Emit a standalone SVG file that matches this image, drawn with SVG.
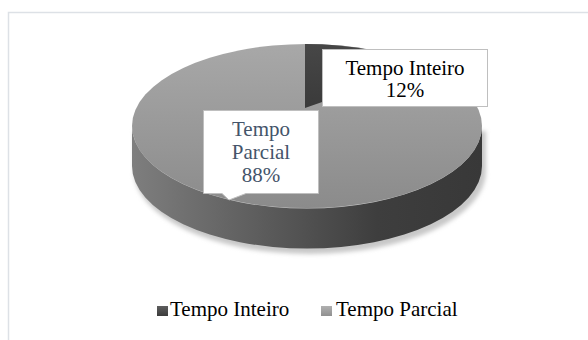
<svg xmlns="http://www.w3.org/2000/svg" width="588" height="340" viewBox="0 0 588 340">
<defs>
<style>
.box{fill:#fff;stroke:#bfbfbf;stroke-width:1}
text{font-family:"Liberation Serif",serif;font-size:21px}
</style>
<linearGradient id="side" x1="0" y1="0" x2="1" y2="0">
<stop offset="0" stop-color="#7e7e7e"/>
<stop offset="0.35" stop-color="#5e5e5e"/>
<stop offset="0.7" stop-color="#3e3e3e"/>
<stop offset="1" stop-color="#383838"/>
</linearGradient>
<linearGradient id="top" x1="0" y1="0" x2="0" y2="1">
<stop offset="0" stop-color="#a8a8a8"/>
<stop offset="1" stop-color="#8b8b8b"/>
</linearGradient>
<linearGradient id="dark" x1="0" y1="0" x2="0" y2="1">
<stop offset="0" stop-color="#474747"/>
<stop offset="1" stop-color="#3a3a3a"/>
</linearGradient>
<linearGradient id="sqD" x1="0" y1="0" x2="0" y2="1">
<stop offset="0" stop-color="#5e5e5e"/>
<stop offset="1" stop-color="#3c3c3c"/>
</linearGradient>
<linearGradient id="sqL" x1="0" y1="0" x2="0" y2="1">
<stop offset="0" stop-color="#b0b0b0"/>
<stop offset="1" stop-color="#909090"/>
</linearGradient>
<filter id="blur" x="-10%" y="-10%" width="120%" height="130%">
<feGaussianBlur stdDeviation="2"/>
</filter>
</defs>
<rect x="0" y="0" width="588" height="340" fill="#fff"/>
<rect x="8.5" y="12.5" width="600" height="340" fill="#fff" stroke="#dde1e6" stroke-width="1.5"/>
<g id="pie">
<path d="M132,128 L132,168 A174,82 0 0 0 484,168 L484,128 Z" fill="#c8c8c8" filter="url(#blur)" transform="translate(2,3)"/>
<path d="M132,126 L132,166 A174,82 0 0 0 482,166 L482,126 A174,82 0 0 1 132,126 Z" fill="url(#side)"/>
<ellipse id="slice-parcial" cx="307" cy="126" rx="175" ry="82" fill="url(#top)"/>
<path id="slice-inteiro" d="M305,108 L305,44 A175,82 0 0 1 425,66 Z" fill="url(#dark)"/>
</g>
<g id="label-inteiro">
<rect class="box" x="322.5" y="49.5" width="165" height="57"/>
<text x="405" y="75" text-anchor="middle" fill="#000" font-family="Liberation Serif">Tempo Inteiro</text>
<text x="405" y="97" text-anchor="middle" fill="#000" font-family="Liberation Serif">12%</text>
</g>
<g id="label-parcial">
<path class="box" d="M203.5,110.5 H318.5 V193.5 H246 L229,200 L222,193.5 H203.5 Z"/>
<text x="261" y="136" text-anchor="middle" fill="#44546a" font-family="Liberation Serif">Tempo</text>
<text x="261" y="159" text-anchor="middle" fill="#44546a" font-family="Liberation Serif">Parcial</text>
<text x="261" y="182" text-anchor="middle" fill="#44546a" font-family="Liberation Serif">88%</text>
</g>
<g id="legend">
<rect x="157" y="306" width="11" height="10" fill="url(#sqD)"/>
<text x="170" y="316" fill="#000">Tempo Inteiro</text>
<rect x="321" y="306" width="11" height="10" fill="url(#sqL)"/>
<text x="336" y="316" fill="#000">Tempo Parcial</text>
</g>
</svg>
